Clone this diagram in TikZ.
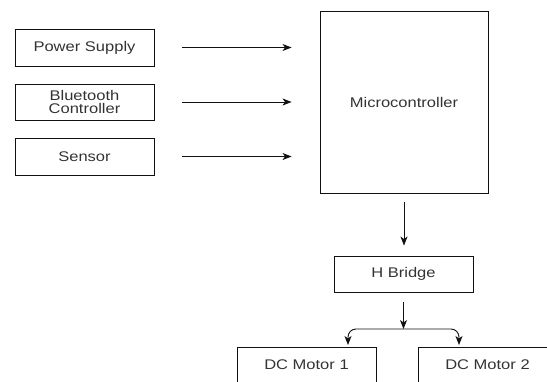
\documentclass[tikz,border=0pt]{standalone}
\usepackage{fontspec}
\setmainfont[FakeStretch=1.18]{Liberation Sans}
\usetikzlibrary{arrows.meta}
\definecolor{blockline}{HTML}{111111}
\definecolor{blocktext}{HTML}{333333}

\tikzset{
  block/.style={draw=blockline, line width=0.9pt, minimum width=139pt, minimum height=36pt,
                inner sep=0pt, align=center, text=blocktext,
                font=\fontsize{14}{12.7}\selectfont},
  link/.style={blockline, line width=0.9pt, ->}
}

\begin{document}
\begin{tikzpicture}[x=1pt, y=-1pt, >={Stealth[length=9pt,width=7pt,inset=2.5pt]}]

  %% frame of the picture
  \clip (0,0) rectangle (547,381);

  %% inputs
  \node[block, minimum height=37pt] (supply) at (84.5,47.5) {Power Supply};
  \node[block] (bluetooth) at (84.5,102) {Bluetooth\\Controller};
  \node[block, minimum height=37pt] (sensor) at (84.5,156.5) {Sensor};

  %% controller
  \node[block, minimum width=168pt, minimum height=182pt] (mcu) at (404,102) {Microcontroller};

  %% driver and motors
  \node[block] (hbridge) at (403.5,274) {H Bridge};
  \node[block] (motorA) at (306.5,365) {DC Motor 1};
  \node[block] (motorB) at (487.5,365) {DC Motor 2};

  \coordinate (split) at (403.5,329);
  \coordinate (toA) at (348,345);
  \coordinate (toB) at (459,345);

  %% signal flow
  \draw[link] ([xshift=28pt]supply.east) -- ([xshift=-28pt]supply.east -| mcu.west);
  \draw[link] ([xshift=28pt]bluetooth.east) -- ([xshift=-28pt]bluetooth.east -| mcu.west);
  \draw[link] ([xshift=28pt]sensor.east) -- ([xshift=-28pt]sensor.east -| mcu.west);
  \draw[link] ([yshift=-9pt]mcu.south) -- ([yshift=10pt]mcu.south |- hbridge.north);
  \draw[link] ([yshift=-10pt]hbridge.south) -- (split);
  \draw[link, rounded corners=8pt] (split) -| (toA);
  \draw[link, rounded corners=8pt] (split) -| (toB);

\end{tikzpicture}
\end{document}
